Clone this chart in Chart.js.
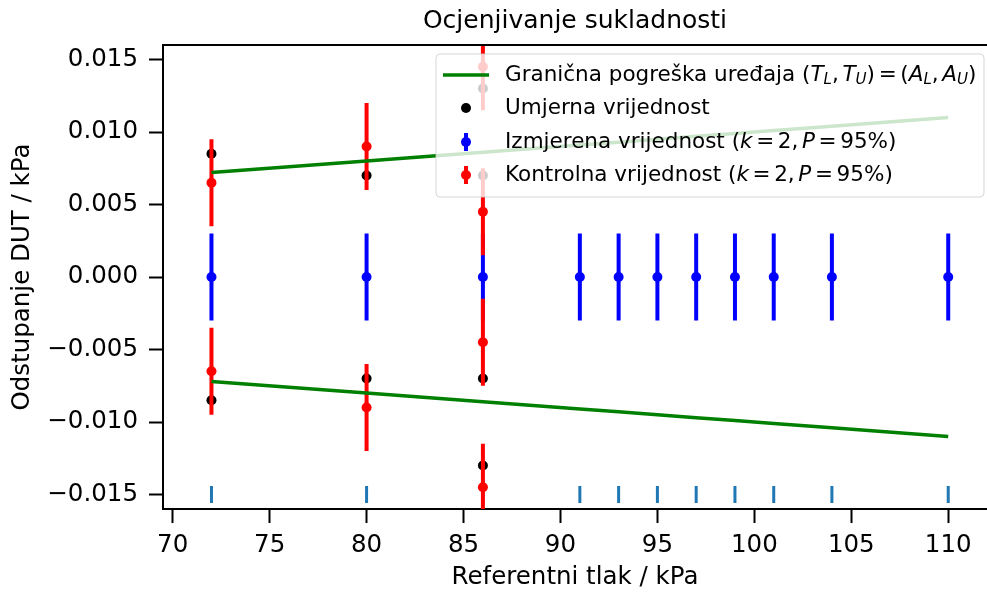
<!DOCTYPE html>
<html>
<head>
<meta charset="utf-8">
<script src="https://cdn.jsdelivr.net/npm/chart.js@4.4.1/dist/chart.umd.min.js"></script>
<style>
  body { margin: 0; background: #fff; }
  canvas { display: block; }
</style>
</head>
<body>
<canvas id="grafikon" width="987" height="592"></canvas>
<script>
// podaci
const tlakovi = [72, 80, 86, 91, 93, 95, 97, 99, 101, 104, 110];
const granicaGornja = [0.0072, 0.0080, 0.0086, 0.0091, 0.0093, 0.0095, 0.0097, 0.0099, 0.0101, 0.0104, 0.0110];
const granicaDonja = [-0.0072, -0.0080, -0.0086, -0.0091, -0.0093, -0.0095, -0.0097, -0.0099, -0.0101, -0.0104, -0.0110];
const izmjereno = [0, 0, 0, 0, 0, 0, 0, 0, 0, 0, 0];
const izmjerenoU = [0.003, 0.003, 0.003, 0.003, 0.003, 0.003, 0.003, 0.003, 0.003, 0.003, 0.003];
const umjernaX = [72, 72, 80, 80, 86, 86, 86, 86];
const umjernaY = [0.0085, -0.0085, 0.007, -0.007, 0.013, 0.007, -0.007, -0.013];
const kontrolnaX = [72, 72, 80, 80, 86, 86, 86, 86];
const kontrolnaY = [0.0065, -0.0065, 0.009, -0.009, 0.0145, 0.0045, -0.0045, -0.0145];
const kontrolnaU = [0.003, 0.003, 0.003, 0.003, 0.003, 0.003, 0.003, 0.003];
const rugRazina = -0.015;
const xTicks = [70, 75, 80, 85, 90, 95, 100, 105, 110];
const yTicks = [-0.015, -0.010, -0.005, 0, 0.005, 0.010, 0.015];

const FONT = 'DejaVu Sans';

// legenda: dijelovi teksta (i = kurziv, s = indeks, g = razmak u em)
const legendaTekst = [
    [{t: 'Granična pogreška uređaja ('}, {t: 'T', i: 1}, {t: 'L', i: 1, s: 1}, {t: ','}, {g: 0.17},
     {t: 'T', i: 1}, {t: 'U', i: 1, s: 1}, {t: ')'}, {g: 0.17}, {t: '='}, {g: 0.17}, {t: '('},
     {t: 'A', i: 1}, {t: 'L', i: 1, s: 1}, {t: ','}, {g: 0.17}, {t: 'A', i: 1}, {t: 'U', i: 1, s: 1}, {t: ')'}],
    [{t: 'Umjerna vrijednost'}],
    [{t: 'Izmjerena vrijednost ('}, {t: 'k', i: 1}, {g: 0.17}, {t: '='}, {g: 0.17}, {t: '2,'}, {g: 0.17},
     {t: 'P', i: 1}, {g: 0.17}, {t: '='}, {g: 0.17}, {t: '95%)'}],
    [{t: 'Kontrolna vrijednost ('}, {t: 'k', i: 1}, {g: 0.17}, {t: '='}, {g: 0.17}, {t: '2,'}, {g: 0.17},
     {t: 'P', i: 1}, {g: 0.17}, {t: '='}, {g: 0.17}, {t: '95%)'}]
];

const toXY = (xs, ys) => xs.map((x, i) => ({x: x, y: ys[i]}));

// error barovi ispod tocaka svakog skupa
const errorBars = {
    id: 'errorBars',
    beforeDatasetDraw(chart, args) {
        const ds = chart.data.datasets[args.index];
        if (!ds.greske) return;
        const ctx = chart.ctx, a = chart.chartArea;
        const xs = chart.scales.x, ys = chart.scales.y;
        ctx.save();
        ctx.beginPath();
        ctx.rect(a.left, a.top, a.right - a.left, a.bottom - a.top);
        ctx.clip();
        ctx.strokeStyle = ds.backgroundColor;
        ctx.lineWidth = 4;
        ds.data.forEach((p, i) => {
            const px = xs.getPixelForValue(p.x);
            ctx.beginPath();
            ctx.moveTo(px, ys.getPixelForValue(p.y - ds.greske[i]));
            ctx.lineTo(px, ys.getPixelForValue(p.y + ds.greske[i]));
            ctx.stroke();
        });
        ctx.restore();
    }
};

function pisiBogato(ctx, dijelovi, x, y, size) {
    dijelovi.forEach(d => {
        if (d.g) { x += d.g * size; return; }
        const fs = d.s ? size * 0.7 : size;
        ctx.font = (d.i ? 'italic ' : '') + fs + 'px "' + FONT + '"';
        ctx.fillText(d.t, x, y + (d.s ? size * 0.25 : 0));
        x += ctx.measureText(d.t).width;
    });
}

const okvirILegenda = {
    id: 'okvirILegenda',
    afterDraw(chart) {
        const ctx = chart.ctx, a = chart.chartArea;
        ctx.save();
        // gornja os
        ctx.strokeStyle = '#000';
        ctx.lineWidth = 2;
        ctx.beginPath();
        ctx.moveTo(a.left - 1, a.top);
        ctx.lineTo(a.right, a.top);
        ctx.stroke();

        // legenda
        const bx = 436, by = 54, bw = 548, bh = 143, r = 4;
        ctx.beginPath();
        ctx.moveTo(bx + r, by);
        ctx.arcTo(bx + bw, by, bx + bw, by + bh, r);
        ctx.arcTo(bx + bw, by + bh, bx, by + bh, r);
        ctx.arcTo(bx, by + bh, bx, by, r);
        ctx.arcTo(bx, by, bx + bw, by, r);
        ctx.closePath();
        ctx.fillStyle = 'rgba(255,255,255,0.8)';
        ctx.fill();
        ctx.strokeStyle = 'rgba(204,204,204,0.8)';
        ctx.lineWidth = 1;
        ctx.stroke();

        const rows = [75, 108, 142, 175];
        const hx = 466;
        ctx.textBaseline = 'middle';
        ctx.fillStyle = '#000';
        rows.forEach((ry, k) => {
            if (k === 0) {
                ctx.strokeStyle = '#008000';
                ctx.lineWidth = 3.5;
                ctx.beginPath();
                ctx.moveTo(443, ry);
                ctx.lineTo(489, ry);
                ctx.stroke();
            } else {
                const c = ['#000000', '#0000ff', '#ff0000'][k - 1];
                if (k > 1) {
                    ctx.strokeStyle = c;
                    ctx.lineWidth = 4;
                    ctx.beginPath();
                    ctx.moveTo(hx, ry - 9);
                    ctx.lineTo(hx, ry + 9);
                    ctx.stroke();
                }
                ctx.fillStyle = c;
                ctx.beginPath();
                ctx.arc(hx, ry, 5, 0, Math.PI * 2);
                ctx.fill();
            }
            ctx.fillStyle = '#000';
            pisiBogato(ctx, legendaTekst[k], 505, ry, 21.5);
        });
        ctx.restore();
    }
};

const osnovnaOs = (ticks) => ({
    type: 'linear',
    afterBuildTicks: s => { s.ticks = ticks.map(v => ({value: v})); },
    grid: {drawOnChartArea: false, drawTicks: true, tickLength: 14, tickWidth: 2, tickColor: '#000'},
    border: {display: true, color: '#000', width: 2},
    ticks: {color: '#000', font: {family: FONT, size: 24.5}, autoSkip: false, maxRotation: 0}
});

const osX = osnovnaOs(xTicks);
osX.min = 69.5;
osX.max = 112;
osX.ticks.padding = 8;
osX.ticks.callback = v => String(v);
osX.title = {display: true, text: 'Referentni tlak / kPa', color: '#000',
    font: {family: FONT, size: 24.5}, padding: {top: 0, bottom: 0}};
osX.afterFit = s => { s.height = 83; };

const osY = osnovnaOs(yTicks);
osY.min = -0.016;
osY.max = 0.016;
osY.ticks.padding = 11;
osY.ticks.callback = v => v.toFixed(3).replace('-', '\u2212');
osY.title = {display: true, text: 'Odstupanje DUT / kPa', color: '#000',
    font: {family: FONT, size: 24.5}, padding: {top: 8, bottom: 0}};
osY.afterFit = s => { s.width = 163; };

new Chart(document.getElementById('grafikon'), {
    type: 'scatter',
    data: {
        datasets: [
            {
                label: 'Granična pogreška uređaja',
                data: toXY(tlakovi, granicaGornja),
                showLine: true, borderColor: '#008000', borderWidth: 3.5,
                pointRadius: 0, order: 1
            },
            {
                label: 'Granična pogreška uređaja (donja)',
                data: toXY(tlakovi, granicaDonja),
                showLine: true, borderColor: '#008000', borderWidth: 3.5,
                pointRadius: 0, order: 1
            },
            {
                label: 'Umjerna vrijednost',
                data: toXY(umjernaX, umjernaY),
                backgroundColor: '#000000', pointRadius: 5, pointBorderWidth: 0, order: 4
            },
            {
                label: 'Izmjerena vrijednost',
                data: toXY(tlakovi, izmjereno),
                greske: izmjerenoU,
                backgroundColor: '#0000ff', pointRadius: 5, pointBorderWidth: 0, order: 3
            },
            {
                label: 'Kontrolna vrijednost',
                data: toXY(kontrolnaX, kontrolnaY),
                greske: kontrolnaU,
                backgroundColor: '#ff0000', pointRadius: 5, pointBorderWidth: 0, order: 2
            },
            {
                label: 'rug',
                data: tlakovi.map(x => ({x: x, y: rugRazina})),
                pointStyle: 'line', rotation: 90, pointRadius: 8.5,
                pointBorderColor: '#1f77b4', pointBorderWidth: 3, order: 5
            }
        ]
    },
    options: {
        responsive: false,
        animation: false,
        layout: {padding: 0, autoPadding: false},
        plugins: {
            legend: {display: false},
            tooltip: {enabled: false},
            title: {
                display: true, text: 'Ocjenjivanje sukladnosti', color: '#000',
                font: {family: FONT, size: 25, weight: 'normal'},
                fullSize: false,
                padding: {top: 6, bottom: 9}
            }
        },
        scales: {x: osX, y: osY}
    },
    plugins: [errorBars, okvirILegenda]
});
</script>
</body>
</html>
